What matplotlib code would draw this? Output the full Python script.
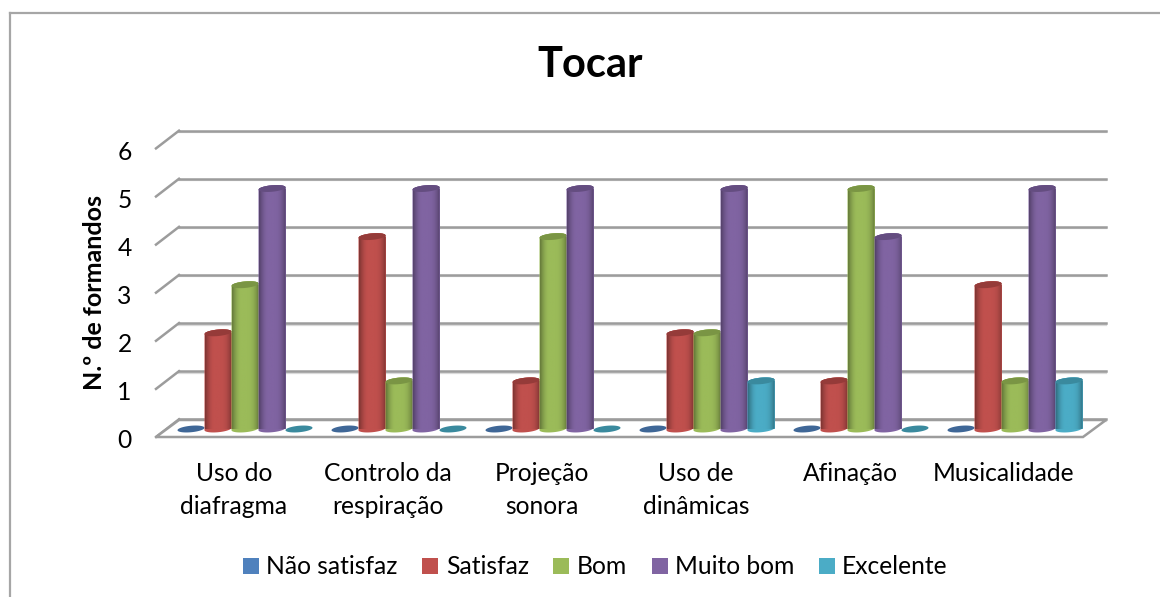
import numpy as np
import matplotlib
matplotlib.use("Agg")
import matplotlib.pyplot as plt
from matplotlib.lines import Line2D
from matplotlib.patches import Polygon
from matplotlib.transforms import ScaledTranslation

categories = ["Uso do\ndiafragma", "Controlo da\nrespiração", "Projeção\nsonora",
              "Uso de\ndinâmicas", "Afinação", "Musicalidade"]
series_names = ["Não satisfaz", "Satisfaz", "Bom", "Muito bom", "Excelente"]
nao_satisfaz = [0, 0, 0, 0, 0, 0]
satisfaz = [2, 4, 1, 2, 1, 3]
bom = [3, 1, 4, 2, 5, 1]
muito_bom = [5, 5, 5, 5, 4, 5]
excelente = [0, 0, 0, 1, 0, 1]
series = [nao_satisfaz, satisfaz, bom, muito_bom, excelente]

colors = ["#4F81BD", "#C0504D", "#9BBB59", "#8064A2", "#4BACC6"]
tops = ["#3F6797", "#953B39", "#7A9544", "#644D80", "#3A8A9E"]

W, H = 1160, 597
plt.rcParams["font.family"] = ["Lato", "DejaVu Sans"]
fig = plt.figure(figsize=(W / 100, H / 100), dpi=100)

# axes box = the front plane of the 3D chart, in pixels
unit = 48.1
left, right, y0 = 156, 1106, 429
ax = fig.add_axes([left / W, 1 - y0 / H, (right - left) / W, 6 * unit / H])
group = 154
ax.set_xlim((left - 245) / group, (right - 245) / group)
ax.set_ylim(0, 6)
for s in ax.spines.values():
    s.set_visible(False)
ax.patch.set_alpha(0)

# walls and floor
up = 9 / unit
down = 8 / unit
depth = 23 / (right - left)
tr = ax.get_yaxis_transform()
grey = "#9C9C9C"
for v in range(7):
    ax.plot([depth, 1], [v + up - 0.015, v + up - 0.015], color="#DADADA", lw=1.6, transform=tr, clip_on=False, zorder=1)
    ax.plot([depth, 1], [v + up + 0.015, v + up + 0.015], color=grey, lw=1.8, transform=tr, clip_on=False, zorder=1.1)
    ax.plot([0, depth], [v - down, v + up + 0.015], color=grey, lw=1.8, transform=tr, clip_on=False, zorder=1.1)
floor = Polygon([[0, -down], [depth, up], [1, up], [1 - depth, -down]], closed=True, facecolor="white",
                edgecolor=grey, lw=1.8, transform=tr, clip_on=False, zorder=1.2)
ax.add_patch(floor)

# cylinders
width = 27 / group
h_ell = 6.5 / unit
tilt = 1.2 / unit


def ring(cx, v, t):
    return cx + width / 2 * np.cos(t), v + h_ell / 2 * np.sin(t) + tilt * np.cos(t)


profile = np.array([0.66, 0.82, 0.94, 1.0, 1.0, 1.0, 1.0, 0.98, 0.93, 0.82, 0.66])
xs = np.linspace(0, 1, 64)
shade = np.interp(xs, np.linspace(0, 1, len(profile)), profile)

x = np.arange(len(categories))
containers = []
for j, vals in enumerate(series):
    pos = x + (j - 2) * width
    bars = ax.bar(pos, vals, width=width, color=colors[j], label=series_names[j], zorder=2 + j * 0.1, clip_on=False)
    containers.append(bars)
    rgb = np.array(matplotlib.colors.to_rgb(colors[j]))
    img = (shade[:, None] * rgb)[None, :, :]
    for i, rect in enumerate(bars):
        cx = rect.get_x() + rect.get_width() / 2
        v = rect.get_height()
        z = 2 + j * 0.1 + i * 0.001
        t = np.linspace(0, np.pi * 2, 60)
        if v > 0:
            bx, by = ring(cx, 0, np.linspace(np.pi, 2 * np.pi, 30))
            tx, ty = ring(cx, v, np.linspace(0, np.pi, 30))
            body = Polygon(np.c_[np.r_[bx, tx], np.r_[by, ty]], closed=True, facecolor=colors[j], edgecolor="none",
                           zorder=z, clip_on=False)
            ax.add_patch(body)
            im = ax.imshow(img, extent=(cx - width / 2, cx + width / 2, -0.2, v + 0.2), aspect="auto",
                           zorder=z + 0.0001, interpolation="bilinear")
            im.set_clip_path(body)
        ex, ey = ring(cx, v, t)
        ax.fill(ex, ey, color=tops[j], lw=0, zorder=z + 0.0002, clip_on=False)

ax.set_xlim((left - 245) / group, (right - 245) / group)
ax.set_ylim(0, 6)

# ticks, shifted the way the 3D projection shifts them
ax.set_yticks(range(7))
ax.set_xticks(x)
ax.set_xticklabels(categories, linespacing=1.5)
ax.tick_params(axis="both", length=0, labelsize=17.7, labelcolor="black")
ax.tick_params(axis="y", pad=17.5)
ax.tick_params(axis="x", pad=24)
dx = ScaledTranslation(-11 / 100, 0, fig.dpi_scale_trans)
dy = ScaledTranslation(0, -10 / 100, fig.dpi_scale_trans)
for lab in ax.get_xticklabels():
    lab.set_transform(lab.get_transform() + dx)
for lab in ax.get_yticklabels():
    lab.set_transform(lab.get_transform() + dy)

fig.text(94 / W, 1 - 293 / H, "N.º de formandos", rotation=90, ha="center", va="center", fontsize=18,
         fontweight="bold")
fig.text(590 / W, 1 - 65 / H, "Tocar", ha="center", va="center", fontsize=30, fontweight="bold")

fig.legend(handles=containers, labels=series_names, loc="center", bbox_to_anchor=(595.5 / W, 1 - 567 / H), ncols=5,
           frameon=False, fontsize=17.7, handlelength=0.65, handleheight=0.65, handletextpad=0.3, columnspacing=1.0)

# chart frame, only top and left show in the crop
fig.add_artist(Line2D([10 / W, 10 / W], [0, 1 - 13 / H], color="#A6A6A6", lw=1.6))
fig.add_artist(Line2D([9.5 / W, 1], [1 - 13 / H, 1 - 13 / H], color="#A6A6A6", lw=1.6))

fig.savefig("out.png", dpi=100)
